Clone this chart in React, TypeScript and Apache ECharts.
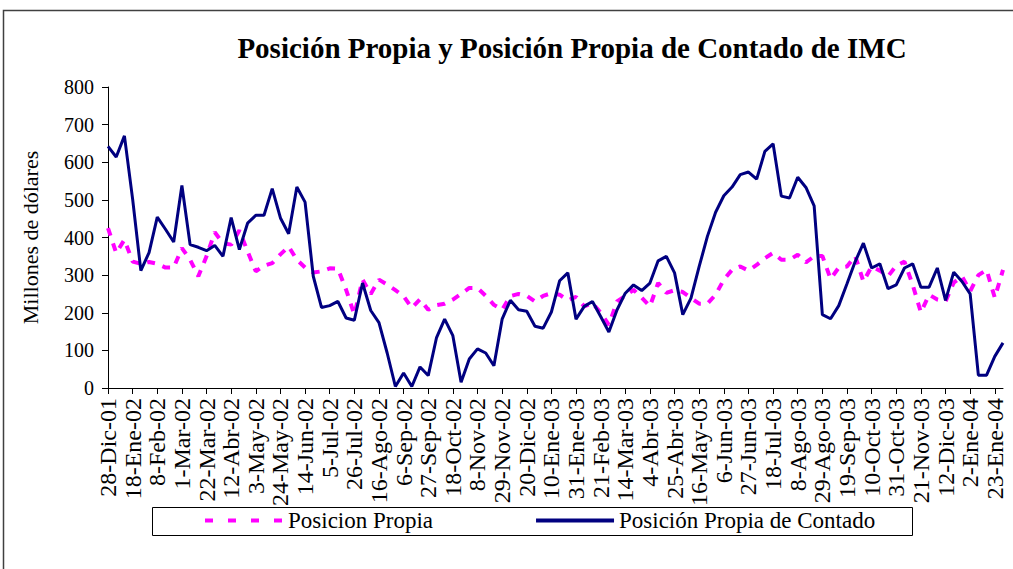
import React, { useEffect, useRef } from "react";
import * as echarts from "echarts";

const weeks = [
  "28-Dic-01", "4-Ene-02", "11-Ene-02", "18-Ene-02", "25-Ene-02", "1-Feb-02", "8-Feb-02", "15-Feb-02", "22-Feb-02",
  "1-Mar-02", "8-Mar-02", "15-Mar-02", "22-Mar-02", "29-Mar-02", "5-Abr-02", "12-Abr-02", "19-Abr-02", "26-Abr-02",
  "3-May-02", "10-May-02", "17-May-02", "24-May-02", "31-May-02", "7-Jun-02", "14-Jun-02", "21-Jun-02", "28-Jun-02",
  "5-Jul-02", "12-Jul-02", "19-Jul-02", "26-Jul-02", "2-Ago-02", "9-Ago-02", "16-Ago-02", "23-Ago-02", "30-Ago-02",
  "6-Sep-02", "13-Sep-02", "20-Sep-02", "27-Sep-02", "4-Oct-02", "11-Oct-02", "18-Oct-02", "25-Oct-02", "1-Nov-02",
  "8-Nov-02", "15-Nov-02", "22-Nov-02", "29-Nov-02", "6-Dic-02", "13-Dic-02", "20-Dic-02", "27-Dic-02", "3-Ene-03",
  "10-Ene-03", "17-Ene-03", "24-Ene-03", "31-Ene-03", "7-Feb-03", "14-Feb-03", "21-Feb-03", "28-Feb-03", "7-Mar-03",
  "14-Mar-03", "21-Mar-03", "28-Mar-03", "4-Abr-03", "11-Abr-03", "18-Abr-03", "25-Abr-03", "2-May-03", "9-May-03",
  "16-May-03", "23-May-03", "30-May-03", "6-Jun-03", "13-Jun-03", "20-Jun-03", "27-Jun-03", "4-Jul-03", "11-Jul-03",
  "18-Jul-03", "25-Jul-03", "1-Ago-03", "8-Ago-03", "15-Ago-03", "22-Ago-03", "29-Ago-03", "5-Sep-03", "12-Sep-03",
  "19-Sep-03", "26-Sep-03", "3-Oct-03", "10-Oct-03", "17-Oct-03", "24-Oct-03", "31-Oct-03", "7-Nov-03", "14-Nov-03",
  "21-Nov-03", "28-Nov-03", "5-Dic-03", "12-Dic-03", "19-Dic-03", "26-Dic-03", "2-Ene-04", "9-Ene-04", "16-Ene-04",
  "23-Ene-04", "30-Ene-04",
];

const posicionPropia = [
  425, 359, 394, 336, 330, 335, 330, 320, 320, 372,
  341, 297, 350, 414, 385, 381, 419, 363, 310, 325,
  332, 355, 376, 341, 320, 307, 310, 318, 317, 261,
  195, 288, 250, 288, 275, 260, 244, 213, 236, 208,
  220, 224, 235, 250, 266, 266, 245, 221, 208, 244,
  250, 245, 230, 245, 252, 248, 233, 242, 217, 226,
  200, 168, 230, 245, 261, 240, 217, 279, 253, 260,
  255, 239, 224, 224, 248, 288, 314, 323, 312, 327,
  345, 359, 341, 341, 354, 334, 350, 351, 290, 320,
  323, 351, 283, 323, 312, 297, 325, 336, 274, 201,
  248, 235, 230, 280, 297, 257, 300, 314, 240, 314,
];

const posicionContado = [
  642, 614, 670, 502, 312, 360, 454, 422, 388, 538,
  381, 374, 365, 379, 350, 453, 368, 438, 459, 459,
  530, 452, 410, 534, 494, 297, 214, 219, 230, 186,
  180, 279, 206, 174, 93, 4, 40, 4, 56, 33,
  133, 183, 139, 15, 77, 104, 93, 59, 183, 233,
  208, 204, 164, 159, 202, 285, 306, 183, 217, 230,
  190, 149, 208, 252, 274, 259, 279, 338, 350, 306,
  195, 239, 323, 403, 467, 511, 534, 567, 574, 555,
  629, 649, 510, 505, 560, 533, 484, 195, 184, 219,
  277, 336, 385, 319, 330, 264, 274, 319, 330, 268,
  268, 319, 233, 308, 283, 250, 34, 34, 84, 120,
];

const seriesNames = ["Posicion Propia", "Posición Propia de Contado"];
const titleText = "Posición Propia y Posición Propia de Contado de IMC";
const yAxisName = "Millones de dólares";

const FONT = "'Liberation Serif', 'Times New Roman', serif";

export default function App() {
  const ref = useRef<HTMLDivElement>(null);
  useEffect(() => {
    document.body.style.margin = "0";
    const chart = echarts.init(ref.current!, null, { renderer: "svg" });
    chart.setOption({
      animation: false,
      backgroundColor: "#ffffff",
      textStyle: { fontFamily: FONT, color: "#000" },
      grid: { left: 108, top: 87, width: 895, height: 301, containLabel: false },
      graphic: [
        {
          type: "rect",
          z: 1,
          shape: { x: 3.5, y: 10.5, width: 1040, height: 620 },
          style: { fill: "none", stroke: "#404040", lineWidth: 1.5 },
          silent: true,
        },
        {
          type: "text",
          z: 5,
          x: 572,
          y: 48,
          style: {
            text: titleText,
            fontFamily: FONT,
            fontWeight: "bold",
            fontSize: 29,
            fill: "#000",
            align: "center",
            verticalAlign: "middle",
          },
        },
        {
          type: "rect",
          z: 10,
          shape: { x: 152.5, y: 507.5, width: 760, height: 28 },
          style: { fill: "#fff", stroke: "#000", lineWidth: 1 },
          silent: true,
        },
      ],
      legend: {
        z: 20,
        left: 203,
        top: 509,
        itemGap: 101,
        itemWidth: 78,
        itemHeight: 14,
        padding: 0,
        data: [
          { name: seriesNames[0], lineStyle: { type: [8, 15], width: 4 } },
          { name: seriesNames[1], lineStyle: { width: 4 } },
        ],
        itemStyle: { opacity: 0 },
        textStyle: { fontFamily: FONT, fontSize: 23, color: "#000" },
      },
      xAxis: {
        type: "category",
        data: weeks,
        boundaryGap: false,
        axisLine: { lineStyle: { color: "#000", width: 1 } },
        axisTick: { interval: 2, length: 6, lineStyle: { color: "#000" } },
        axisLabel: {
          interval: 2,
          rotate: 90,
          margin: 10,
          fontFamily: FONT,
          fontSize: 24,
          color: "#000",
        },
        splitLine: { show: false },
      },
      yAxis: {
        type: "value",
        min: 0,
        max: 800,
        interval: 100,
        name: yAxisName,
        nameLocation: "middle",
        nameRotate: 90,
        nameGap: 67,
        nameTextStyle: { fontFamily: FONT, fontSize: 22, color: "#000" },
        axisLine: { show: true, lineStyle: { color: "#000", width: 1 } },
        axisTick: { show: true, length: 6, lineStyle: { color: "#000" } },
        axisLabel: { margin: 14, fontFamily: FONT, fontSize: 20, color: "#000" },
        splitLine: { show: false },
      },
      series: [
        {
          name: seriesNames[0],
          type: "line",
          data: posicionPropia,
          symbol: "none",
          itemStyle: { color: "#FF00FF" },
          lineStyle: { color: "#FF00FF", width: 4, type: [8, 8] },
          z: 2,
        },
        {
          name: seriesNames[1],
          type: "line",
          data: posicionContado,
          symbol: "none",
          itemStyle: { color: "#000080" },
          lineStyle: { color: "#000080", width: 3 },
          z: 3,
        },
      ],
    });
    return () => chart.dispose();
  }, []);
  return <div ref={ref} style={{ width: 1013, height: 569, background: "#fff" }} />;
}
